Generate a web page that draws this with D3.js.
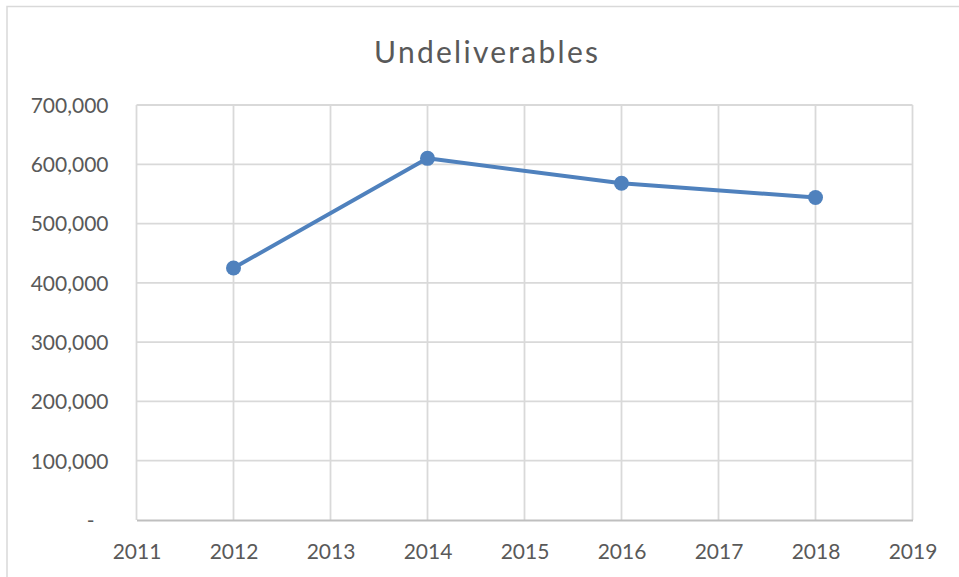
<!DOCTYPE html>
<html>
<head>
<meta charset="utf-8">
<script src="https://cdn.jsdelivr.net/npm/d3@7"></script>
<style>
  body { margin: 0; background: #fff; }
  text { font-family: Lato, "Open Sans", sans-serif; fill: #595959; }
</style>
</head>
<body>
<div id="chart"></div>
<script>
// data
var years = [2012, 2014, 2016, 2018];
var undeliverables = [425000, 610000, 568000, 544000];
var xTicks = [2011, 2012, 2013, 2014, 2015, 2016, 2017, 2018, 2019];
var yTicks = [0, 100000, 200000, 300000, 400000, 500000, 600000, 700000];

var svgWidth = 959;
var svgHeight = 577;

var margin = { top: 105, right: 46.5, bottom: 57, left: 136.5 };
var width = svgWidth - margin.left - margin.right;
var height = svgHeight - margin.top - margin.bottom;

var svg = d3.select("#chart")
  .append("svg")
  .attr("width", svgWidth)
  .attr("height", svgHeight);

// chart outer border (runs off the right/bottom edges)
svg.append("rect")
  .attr("x", 7)
  .attr("y", 6.5)
  .attr("width", 980)
  .attr("height", 600)
  .attr("fill", "none")
  .attr("stroke", "#d9d9d9")
  .attr("stroke-width", 1.5);

svg.append("text")
  .attr("x", 486)
  .attr("y", 63)
  .attr("text-anchor", "middle")
  .attr("font-size", "30px")
  .attr("textLength", 224)
  .attr("lengthAdjust", "spacing")
  .text("Undeliverables");

var chartGroup = svg.append("g")
  .attr("transform", `translate(${margin.left}, ${margin.top})`);

var xScale = d3.scaleLinear().domain([2011, 2019]).range([0, width]);
var yScale = d3.scaleLinear().domain([0, 700000]).range([height, 0]);

// gridlines
chartGroup.append("g")
  .selectAll("line.h")
  .data(yTicks.slice(1))
  .enter()
  .append("line")
  .attr("x1", 0).attr("x2", width)
  .attr("y1", d => yScale(d)).attr("y2", d => yScale(d))
  .attr("stroke", "#d9d9d9")
  .attr("stroke-width", 1.8);

chartGroup.append("g")
  .selectAll("line.v")
  .data(xTicks)
  .enter()
  .append("line")
  .attr("x1", d => xScale(d)).attr("x2", d => xScale(d))
  .attr("y1", 0).attr("y2", height)
  .attr("stroke", "#d9d9d9")
  .attr("stroke-width", 1.8);

// axes
var fmt = d3.format(",");
var leftAxis = d3.axisLeft(yScale)
  .tickValues(yTicks)
  .tickSize(0)
  .tickPadding(28)
  .tickFormat(d => d === 0 ? "-" : fmt(d));

var bottomAxis = d3.axisBottom(xScale)
  .tickValues(xTicks)
  .tickSize(0)
  .tickPadding(24)
  .tickFormat(d3.format("d"));

var yAxisG = chartGroup.append("g").call(leftAxis);
yAxisG.select(".domain").remove();
yAxisG.selectAll("text")
  .attr("font-size", "21px")
  .attr("dy", "0.35em")
  .style("font-family", "Lato, sans-serif")
  .attr("fill", "#595959");
yAxisG.selectAll("text").filter(d => d === 0).attr("dx", "-14");

var xAxisG = chartGroup.append("g")
  .attr("transform", `translate(0, ${height})`)
  .call(bottomAxis);
xAxisG.select(".domain")
  .attr("stroke", "#bfbfbf")
  .attr("stroke-width", 1.8);
xAxisG.selectAll("text")
  .attr("font-size", "21px")
  .style("font-family", "Lato, sans-serif")
  .attr("fill", "#595959");

// series
var points = years.map((y, i) => ({ year: y, value: undeliverables[i] }));

var line = d3.line()
  .x(d => xScale(d.year))
  .y(d => yScale(d.value));

chartGroup.append("path")
  .datum(points)
  .attr("d", line)
  .attr("fill", "none")
  .attr("stroke", "#4f81bd")
  .attr("stroke-width", 4)
  .attr("stroke-linejoin", "round");

chartGroup.selectAll("circle")
  .data(points)
  .enter()
  .append("circle")
  .attr("cx", d => xScale(d.year))
  .attr("cy", d => yScale(d.value))
  .attr("r", 7.5)
  .attr("fill", "#4f81bd");
</script>
</body>
</html>
